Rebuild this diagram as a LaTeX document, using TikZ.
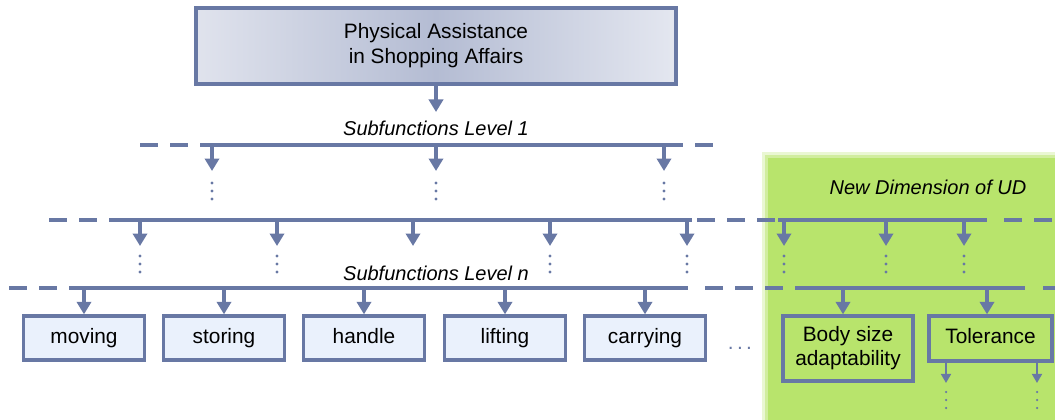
\documentclass[tikz,border=0pt]{standalone}
\usepackage{fontspec}
\setmainfont{Liberation Sans}
\usepackage{tikz}
\usetikzlibrary{arrows.meta, positioning}
\definecolor{linecol}{RGB}{104,120,164}
\definecolor{boxfill}{RGB}{234,241,252}
\definecolor{udgreen}{RGB}{184,228,108}
\definecolor{topleft}{RGB}{224,227,237}
\definecolor{topmid}{RGB}{180,188,211}
\definecolor{topright}{RGB}{228,231,240}
\tikzstyle{mainfunc} = [rectangle, minimum width=288pt, minimum height=45.6pt, text centered, draw=linecol, line width=2.4pt, left color=topleft, right color=topright, middle color=topmid, align=center, font=\fontsize{12.5}{15}\selectfont]
\tikzstyle{boxbase} = [rectangle, text centered, draw=linecol, line width=2pt, align=center, font=\fontsize{12.5}{14.4}\selectfont]
\tikzstyle{subfunc} = [boxbase, minimum width=72.6pt, minimum height=26.4pt, text height=9pt, text depth=2.6pt, fill=boxfill]
\tikzstyle{udfunc} = [boxbase]
\tikzstyle{levellabel} = [font=\itshape\fontsize{12}{14}\selectfont]
\tikzstyle{arrow} = [line width=1.9pt, draw=linecol, -{Triangle[width=8.5pt,length=7.5pt]}]
\tikzstyle{smallarrow} = [line width=1.3pt, draw=linecol, -{Triangle[width=6pt,length=5.5pt]}]
\tikzstyle{bus} = [line width=2pt, draw=linecol]
\tikzstyle{busdash} = [bus, dash pattern=on 10.8pt off 7.2pt]
\tikzstyle{vdotline} = [draw=linecol, line width=1.9pt, line cap=round, dash pattern=on 0pt off 4.8pt]

\begin{document}
\begin{tikzpicture}[x=0.6pt, y=-0.6pt]
    \useasboundingbox (0,0) rectangle (1055,420);

    % new dimension area
    \fill[udgreen, opacity=0.3] (762,152) rectangle (1055,420);
    \fill[udgreen, opacity=0.5] (765,155) rectangle (1055,420);
    \fill[udgreen] (768,158) rectangle (1055,420);
    \node[levellabel] (udlabel) at (928,187) {New Dimension of UD};

    \node[mainfunc] (main) at (436,46) {Physical Assistance\\in Shopping Affairs};
    \coordinate (maintip) at (436,112);
    \draw[arrow] (main) -- (maintip);
    \node[levellabel] (level1) at (436,128) {Subfunctions Level 1};

    % level 1
    \draw[busdash] (140,145) -- (203,145);
    \draw[bus] (203,145) -- (665,145);
    \draw[busdash] (665,145) -- (721,145);
    \foreach \x in {212,436,664} {
        \coordinate (a1-\x) at (\x,145);
        \coordinate (t1-\x) at (\x,171);
        \draw[arrow] (a1-\x) -- (t1-\x);
        \draw[vdotline] (\x,183) -- (\x,199.5);
    }

    % level 2
    \draw[busdash] (49,220) -- (113,220);
    \draw[bus] (113,220) -- (692,220);
    \draw[busdash] (697,220) -- (778,220);
    \draw[bus] (778,220) -- (987,220);
    \draw[busdash] (1004,220) -- (1055,220);
    \foreach \x in {140,277,413,550,687,784,886,964} {
        \coordinate (a2-\x) at (\x,220);
        \coordinate (t2-\x) at (\x,246);
        \draw[arrow] (a2-\x) -- (t2-\x);
    }
    \foreach \x in {140,277,550,687,784,886,964}
        \draw[vdotline] (\x,256) -- (\x,272.5);
    \node[levellabel] (leveln) at (436,273) {Subfunctions Level n};

    % level n
    \draw[busdash] (9,288) -- (70,288);
    \draw[bus] (70,288) -- (688,288);
    \draw[busdash] (705,288) -- (803,288);
    \draw[bus] (803,288) -- (1025,288);
    \draw[busdash] (1043,288) -- (1055,288);

    \node[subfunc] (moving) at (84,338) {moving};
    \node[subfunc] (storing) at (224,338) {storing};
    \node[subfunc] (handle) at (364,338) {handle};
    \node[subfunc] (lifting) at (505,338) {lifting};
    \node[subfunc] (carrying) at (645,338) {carrying};
    \node[anchor=base, text=linecol, font=\fontsize{12.5}{14}\selectfont] (more) at (740,349) {.\hspace{2pt}.\hspace{2pt}.};
    \node[udfunc, minimum width=78pt, minimum height=39pt] (body) at (848,348.5) {Body size\\adaptability};
    \node[udfunc, minimum width=73.8pt, minimum height=27pt, text height=9pt, text depth=2.6pt] (tolerance) at (990.5,338.5) {Tolerance};

    \foreach \x/\n in {84/moving,224/storing,364/handle,505/lifting,645/carrying} {
        \coordinate (a3-\n) at (\x,288);
        \draw[arrow] (a3-\n) -- (\n.north);
    }
    \coordinate (a3-body) at (843,288);
    \coordinate (a3-tolerance) at (987,288);
    \draw[arrow] (a3-body) -- (a3-body |- body.north);
    \draw[arrow] (a3-tolerance) -- (a3-tolerance |- tolerance.north);

    % below tolerance
    \foreach \x in {946,1037} {
        \coordinate (s-\x) at (\x,361);
        \coordinate (e-\x) at (\x,383);
        \draw[smallarrow] (s-\x) -- (e-\x);
        \draw[vdotline, line width=1.5pt] (\x,392) -- (\x,408.5);
    }
\end{tikzpicture}
\end{document}
